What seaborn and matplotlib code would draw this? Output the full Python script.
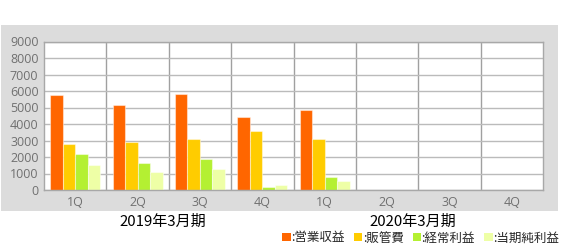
import matplotlib
matplotlib.use("Agg")
import matplotlib.pyplot as plt
from matplotlib.patches import Rectangle, Patch
import seaborn as sns
import pandas as pd
import numpy as np

periods = ["2019-1Q", "2019-2Q", "2019-3Q", "2019-4Q", "2020-1Q", "2020-2Q", "2020-3Q", "2020-4Q"]
tick_labels = ["1Q", "2Q", "3Q", "4Q", "1Q", "2Q", "3Q", "4Q"]
series = ["営業収益", "販管費", "経常利益", "当期純利益"]
revenue = [5750, 5130, 5820, 4400, 4850, np.nan, np.nan, np.nan]
sga = [2800, 2890, 3090, 3580, 3070, np.nan, np.nan, np.nan]
ordinary = [2180, 1640, 1860, 200, 810, np.nan, np.nan, np.nan]
net = [1530, 1110, 1290, 300, 530, np.nan, np.nan, np.nan]
year_labels = ["2019年3月期", "2020年3月期"]
colors = ["#FF6600", "#FFCC00", "#B4F032", "#EEFFA6"]

rows = []
for name, vals in zip(series, [revenue, sga, ordinary, net]):
    for p, v in zip(periods, vals):
        rows.append({"period": p, "series": name, "value": v})
df = pd.DataFrame(rows)

sns.set_theme(style="white")
plt.rcParams["font.family"] = ["Open Sans", "Noto Sans CJK JP", "DejaVu Sans"]

fig = plt.figure(figsize=(5.62, 2.5), dpi=100)
W, H = 562, 250
# gray panel background
bg = Rectangle((1 / W, 1 - 211 / H), 557 / W, (211 - 25) / H,
               transform=fig.transFigure, facecolor="#DCDCDC",
               edgecolor="none", zorder=-10)
fig.add_artist(bg)

ax = fig.add_axes([44 / W, 1 - 190 / H, 499 / W, (190 - 41.5) / H])
ax.set_zorder(1)
ax.set_facecolor("white")

sns.barplot(data=df, x="period", y="value", hue="series", order=periods,
            hue_order=series, palette=colors, width=0.8, ax=ax,
            edgecolor=(1, 1, 1, 0.45), linewidth=0.8, errorbar=None,
            legend=False, saturation=1)

ax.set_xlim(-0.5, 7.5)
ax.set_ylim(0, 9000)
ax.set_yticks(range(0, 9001, 1000))
ax.set_xticks(range(8))
ax.set_xticklabels(tick_labels)
ax.set_xlabel("")
ax.set_ylabel("")
ax.tick_params(axis="both", length=0, labelsize=9, labelcolor="#707070")
ax.tick_params(axis="x", pad=4)
ax.tick_params(axis="y", pad=4)
for lab in ax.get_xticklabels() + ax.get_yticklabels():
    lab.set_fontfamily("Open Sans")

ax.yaxis.grid(True, color="#BBBBBB", linewidth=1)
for xv in np.arange(0.5, 7.5, 1.0):
    ax.axvline(xv, color="#A0A0A0", linewidth=1, zorder=0.5)
ax.set_axisbelow(True)
for s in ax.spines.values():
    s.set_color("#A8A8A8")
    s.set_linewidth(1)

fig.text(163 / W, 1 - 221.5 / H, year_labels[0], ha="center", va="center",
         fontsize=10.8, color="black", family=["Noto Sans CJK JP", "DejaVu Sans"])
fig.text(413 / W, 1 - 221.5 / H, year_labels[1], ha="center", va="center",
         fontsize=10.8, color="black", family=["Noto Sans CJK JP", "DejaVu Sans"])

handles = [Patch(facecolor=c, edgecolor="none") for c in colors]
leg = fig.legend(handles, [":" + s for s in series], ncol=4, frameon=False,
                 loc="center right", bbox_to_anchor=(559 / W, 1 - 238 / H),
                 handlelength=0.65, handleheight=0.65, handletextpad=0.05,
                 columnspacing=0.75, borderaxespad=0, borderpad=0,
                 prop={"family": "Noto Sans CJK JP", "size": 9})

fig.savefig("out.png", dpi=100)
